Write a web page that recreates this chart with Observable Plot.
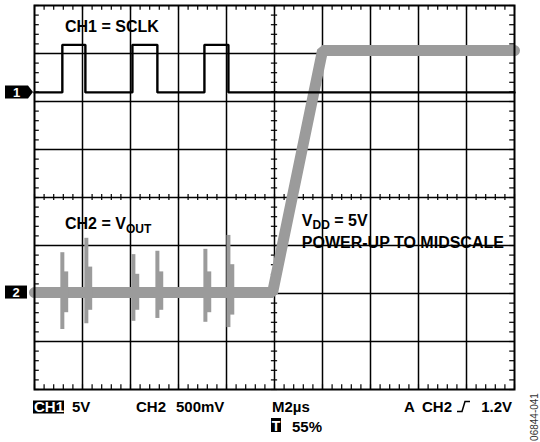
<!DOCTYPE html>
<html>
<head>
<meta charset="utf-8">
<script src="https://cdn.jsdelivr.net/npm/d3@7"></script>
<script src="https://cdn.jsdelivr.net/npm/@observablehq/plot@0.6"></script>
<style>
  html, body { margin: 0; padding: 0; background: #fff; }
  #chart { width: 540px; height: 442px; }
  svg text { font-family: "Liberation Sans", Arial, sans-serif; }
</style>
</head>
<body>
<div id="chart"></div>
<script>
// ---- Data (screen divisions: x 0..10, y -4..4) ----
// CH1 = SCLK (black)
const ch1Time  = [0, 0.58, 0.58, 1.06, 1.06, 2.04, 2.04, 2.56, 2.56, 3.54, 3.54, 4.04, 4.04, 10];
const ch1Level = [2.19, 2.19, 3.18, 3.18, 2.19, 2.19, 3.18, 3.18, 2.19, 2.19, 3.18, 3.18, 2.19, 2.19];
// CH2 = VOUT (grey)
const ch2Time  = [0, 4.96, 6.0, 10];
const ch2Level = [-1.98, -1.98, 3.06, 3.06];
// glitches on VOUT at each SCLK edge
const spikeTime = [0.58, 1.08, 2.06, 2.56, 3.56, 4.04];
const spikeHigh = [-1.15, -0.85, -1.19, -1.12, -1.08, -0.79];
const spikeLow  = [-2.75, -2.63, -2.58, -2.52, -2.60, -2.71];
const ringTime  = [0.65, 1.15, 2.13, 2.63, 3.63, 4.11];
const ringHigh  = [-1.55, -1.45, -1.6, -1.55, -1.55, -1.4];
const ringLow   = [-2.4, -2.35, -2.35, -2.35, -2.4, -2.45];
// grid
const majorX = [1, 2, 3, 4, 5, 6, 7, 8, 9];
const majorY = [-3, -2, -1, 0, 1, 2, 3];
const minorX = d3.range(0, 10.001, 0.2);
const minorY = d3.range(-4, 4.001, 0.2);

const ch1 = ch1Time.map((t, i) => ({t, v: ch1Level[i]}));
const ch2 = ch2Time.map((t, i) => ({t, v: ch2Level[i]}));
const spikes = spikeTime.map((t, i) => ({t, hi: spikeHigh[i], lo: spikeLow[i]}));
const rings = ringTime.map((t, i) => ({t, hi: ringHigh[i], lo: ringLow[i]}));

const plot = Plot.plot({
  width: 540, height: 442,
  marginLeft: 34, marginRight: 26, marginTop: 5, marginBottom: 53,
  x: {domain: [0, 10], axis: null},
  y: {domain: [-4, 4], axis: null},
  style: {background: "#fff", fontFamily: "Liberation Sans, Arial, sans-serif"},
  marks: [
    Plot.ruleX(majorX, {stroke: "#000", strokeWidth: 1.5}),
    Plot.ruleY(majorY, {stroke: "#000", strokeWidth: 1.5}),
    Plot.ruleX(minorX, {x: d => d, y1: 4, y2: 3.9, stroke: "#000", strokeWidth: 1.2}),
    Plot.ruleX(minorX, {x: d => d, y1: -4, y2: -3.9, stroke: "#000", strokeWidth: 1.2}),
    Plot.ruleX(minorX, {x: d => d, y1: -0.065, y2: 0.065, stroke: "#000", strokeWidth: 1.2}),
    Plot.ruleY(minorY, {y: d => d, x1: 0, x2: 0.1, stroke: "#000", strokeWidth: 1.2}),
    Plot.ruleY(minorY, {y: d => d, x1: 9.9, x2: 10, stroke: "#000", strokeWidth: 1.2}),
    Plot.ruleY(minorY, {y: d => d, x1: 4.935, x2: 5.065, stroke: "#000", strokeWidth: 1.2}),
    // CH2 grey trace
    Plot.line(ch2, {x: "t", y: "v", stroke: "#9b9b9b", strokeWidth: 11, strokeLinejoin: "miter"}),
    Plot.ruleX(spikes, {x: "t", y1: "lo", y2: "hi", stroke: "#9b9b9b", strokeWidth: 4}),
    Plot.ruleX(rings, {x: "t", y1: "lo", y2: "hi", stroke: "#9b9b9b", strokeWidth: 5}),
    // CH1 black trace
    Plot.line(ch1, {x: "t", y: "v", stroke: "#000", strokeWidth: 2.4, strokeLinejoin: "miter"}),
    Plot.frame({stroke: "#000", strokeWidth: 2})
  ]
});
document.getElementById("chart").appendChild(plot);

const sx = plot.scale("x"), sy = plot.scale("y");
const X = v => sx.apply(v), Y = v => sy.apply(v);
const svg = d3.select(plot);

function txt(x, y, s, opts = {}) {
  const t = svg.append("text").attr("x", x).attr("y", y)
    .attr("font-weight", "bold").attr("font-size", 15)
    .attr("text-anchor", "start").attr("fill", "#000").text(s);
  for (const k in opts) t.attr(k, opts[k]);
  return t;
}
function box(x, y, w, h) {
  svg.append("rect").attr("x", x).attr("y", y).attr("width", w).attr("height", h).attr("fill", "#000");
}

// in-chart annotations
txt(X(0.646), Y(3.44), "CH1 = SCLK", {"font-size": 16});
{
  const t = txt(X(0.646), Y(-0.667), "CH2 = V", {"font-size": 16});
  t.append("tspan").attr("font-size", 12).attr("dy", 4).text("OUT");
}
{
  const t = txt(X(5.58), Y(-0.604), "V", {"font-size": 16});
  t.append("tspan").attr("font-size", 12).attr("dy", 3).text("DD");
  t.append("tspan").attr("dy", -3).text(" = 5V");
}
txt(X(5.58), Y(-1.0625), "POWER-UP TO MIDSCALE", {"font-size": 16});

// channel markers
const y1 = Y(2.19), y2 = Y(-1.98);
svg.append("path").attr("d", `M5,${y1 - 6.5}H28L33,${y1}L28,${y1 + 6.5}H5Z`).attr("fill", "#000");
txt(16.5, y1 + 5, "1", {"fill": "#fff", "font-size": 13, "text-anchor": "middle"});
box(5, y2 - 6.5, 22, 13);
txt(16, y2 + 5, "2", {"fill": "#fff", "font-size": 13, "text-anchor": "middle"});

// status line below the graticule
box(33, 400.5, 31, 13);
txt(34, 412, "CH1", {"fill": "#fff"});
txt(72, 412, "5V");
txt(136, 412, "CH2");
txt(176, 412, "500mV");
txt(272, 412, "M2µs");
txt(404, 412, "A");
txt(422, 412, "CH2");
svg.append("path").attr("d", "M457,411.5H462L465,401.5H470").attr("fill", "none").attr("stroke", "#000").attr("stroke-width", 1.5);
txt(512, 412, "1.2V", {"text-anchor": "end"});
box(271, 418, 10, 14);
txt(276, 431, "T", {"fill": "#fff", "text-anchor": "middle", "font-size": 14});
txt(292, 432, "55%");
svg.append("text").attr("transform", "translate(538,417) rotate(-90)")
  .attr("text-anchor", "middle").attr("font-size", 10).attr("fill", "#333")
  .text("06844-041");
</script>
</body>
</html>
